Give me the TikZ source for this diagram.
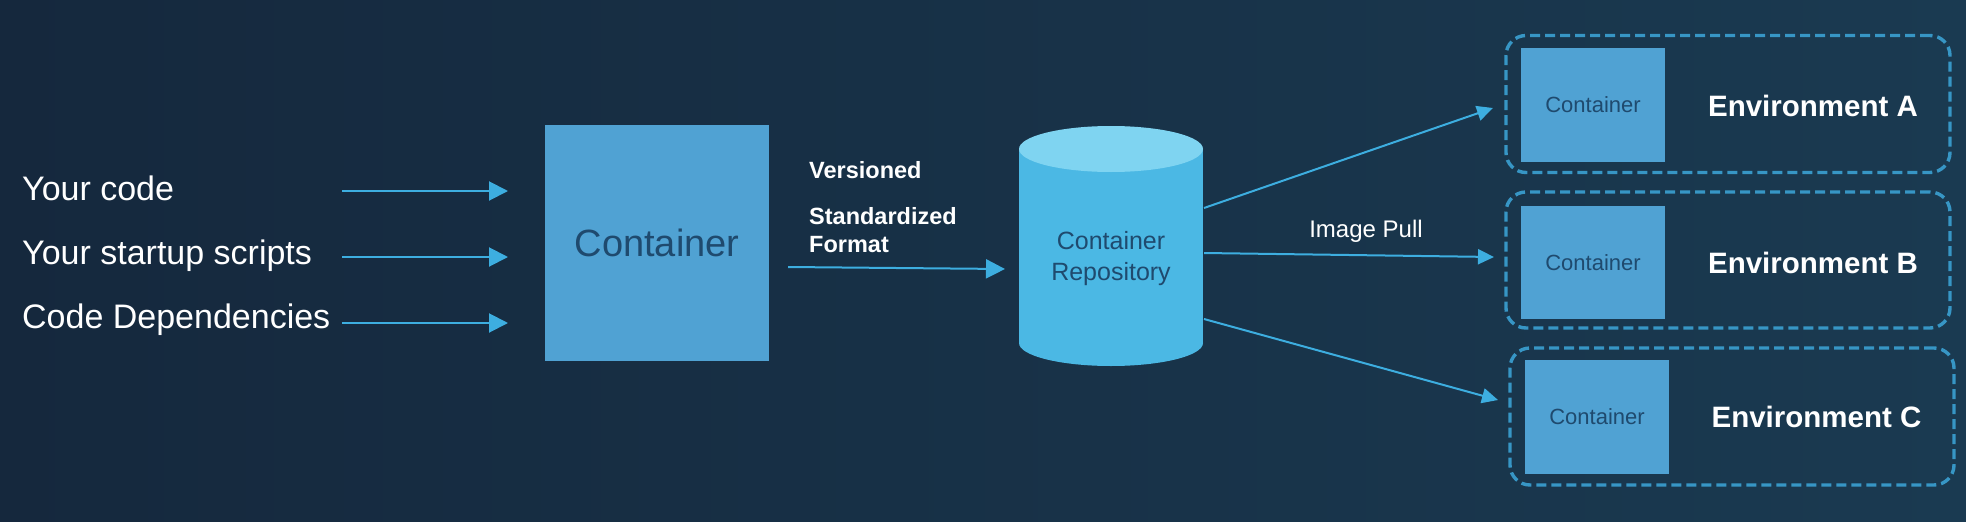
\documentclass[tikz,border=0pt]{standalone}
\usepackage{fontspec}
\setmainfont{Liberation Sans}
\usetikzlibrary{arrows.meta}
\definecolor{bgA}{HTML}{15283D}
\definecolor{bgB}{HTML}{1A3A51}
\definecolor{boxfill}{HTML}{50A2D3}
\definecolor{cylbody}{HTML}{4BB8E4}
\definecolor{cyltop}{HTML}{7FD4F1}
\definecolor{arrowc}{HTML}{3DAEE0}
\definecolor{dashc}{HTML}{3796C5}
\definecolor{darktxt}{HTML}{1F4A6E}
\tikzset{
  lefttxt/.style={text=white, font=\fontsize{34}{40}\selectfont, anchor=base west, inner sep=0},
  arr/.style={draw=arrowc, line width=2pt, -{Triangle[length=19pt,width=19pt]}},
  arrthin/.style={draw=arrowc, line width=2pt, -{Triangle[length=16pt,width=15pt]}},
  bigbox/.style={fill=boxfill, draw=none, minimum width=224pt, minimum height=236pt, text=darktxt, font=\fontsize{38}{44}\selectfont},
  smallbox/.style={fill=boxfill, draw=none, minimum width=144pt, minimum height=114pt, text=darktxt, font=\fontsize{22}{26}\selectfont},
  envbox/.style={draw=dashc, line width=3.4pt, dash pattern=on 10pt off 5pt, rounded corners=20pt, minimum width=444pt, minimum height=137pt},
  envtxt/.style={text=white, font=\bfseries\fontsize{29.5}{34}\selectfont},
  midtxt/.style={text=white, font=\bfseries\fontsize{23.5}{28}\selectfont, anchor=base west, inner sep=0},
  repotxt/.style={text=darktxt, font=\fontsize{25}{31}\selectfont, align=center},
}
\begin{document}
\begin{tikzpicture}[x=1pt,y=-1pt]
\shade[left color=bgA, right color=bgB] (0,0) rectangle (1966,522);
\useasboundingbox (0,0) rectangle (1966,522);

% left inputs
\node[lefttxt] (t1) at (22,200) {Your code};
\node[lefttxt] (t2) at (22,264) {Your startup scripts};
\node[lefttxt] (t3) at (22,328) {Code Dependencies};
\coordinate (a1s) at (342,191); \coordinate (a1e) at (508,191);
\coordinate (a2s) at (342,257); \coordinate (a2e) at (508,257);
\coordinate (a3s) at (342,323); \coordinate (a3e) at (508,323);
\draw[arr] (a1s) -- (a1e);
\draw[arr] (a2s) -- (a2e);
\draw[arr] (a3s) -- (a3e);

% main container
\node[bigbox] (cont) at (657,243) {Container};

% labels
\node[midtxt] (v1) at (809,178) {Versioned};
\node[midtxt] (v2) at (809,224) {Standardized};
\node[midtxt] (v3) at (809,252) {Format};
\coordinate (fs) at (788,267); \coordinate (fe) at (1005,269);
\draw[arr] (fs) -- (fe);

% cylinder
\fill[cylbody] (1019,149) rectangle (1203,343);
\fill[cylbody] (1111,343) ellipse[x radius=92, y radius=23];
\fill[cyltop] (1111,149) ellipse[x radius=92, y radius=23];
\node[repotxt] (repo) at (1111,259) {Container\\Repository};

% environments
\node[envbox] (envA) at (1728,104) {};
\node[envbox, minimum height=136pt] (envB) at (1728,260) {};
\node[envbox] (envC) at (1732,416.5) {};
\node[smallbox] (cA) at (1593,105) {Container};
\node[smallbox, minimum height=113pt] (cB) at (1593,262.5) {Container};
\node[smallbox] (cC) at (1597,417) {Container};
\node[envtxt] (eA) at (1813,106) {Environment A};
\node[envtxt] (eB) at (1813,263) {Environment B};
\node[envtxt] (eC) at (1816.5,417) {Environment C};

% pulls
\coordinate (p1s) at (1204,208); \coordinate (p1e) at (1493,108);
\coordinate (p2s) at (1204,253); \coordinate (p2e) at (1494,257);
\coordinate (p3s) at (1204,319); \coordinate (p3e) at (1498,400);
\draw[arrthin] (p1s) -- (p1e);
\draw[arrthin] (p2s) -- (p2e);
\draw[arrthin] (p3s) -- (p3e);
\node[text=white, font=\fontsize{24}{28}\selectfont] (pull) at (1366,231) {Image Pull};
\end{tikzpicture}
\end{document}
